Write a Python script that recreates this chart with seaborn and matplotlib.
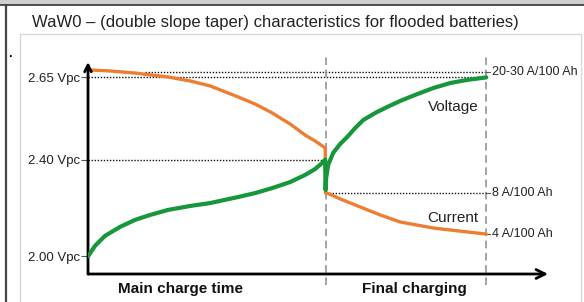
"""
WaW0 double slope taper charge characteristic (schematic)
"""

import numpy as np
import pandas as pd
import matplotlib
matplotlib.use("Agg")
import matplotlib.pyplot as plt
from matplotlib.lines import Line2D
from matplotlib.patches import Rectangle
import seaborn as sns

# ─── Data (time in arbitrary units, level = relative height on the axis) ─────
VOLT_TIME  = [0.0, 0.35, 0.85, 1.6, 2.36, 3.12, 4.02, 5.13, 6.13, 7.54, 8.39,
              9.25, 10.15, 10.9, 11.41, 11.76, 11.91, 11.93, 11.96, 12.06,
              12.31, 12.66, 13.02, 13.42, 13.82, 14.42, 15.03, 15.68, 16.43,
              17.34, 18.19, 19.05, 20.0]
VOLT_LEVEL = [8.5, 13.5, 18.3, 22.6, 26.0, 28.4, 30.8, 32.7, 34.1, 37.0, 38.9,
              41.3, 44.2, 47.6, 50.5, 53.4, 55.0, 40.4, 46.2, 52.4,
              58.2, 62.5, 65.9, 70.2, 74.0, 77.4, 80.3, 83.2, 86.1,
              89.4, 91.8, 93.3, 94.5]

CURR_TIME  = [0.0, 1.1, 2.36, 4.02, 5.13, 6.13, 7.54, 8.39, 9.25, 10.15, 10.9,
              11.41, 11.91, 11.93, 12.01, 12.66, 13.67, 14.67, 15.68, 17.34,
              19.05, 20.0]
CURR_LEVEL = [98.1, 97.6, 96.6, 94.7, 92.8, 90.4, 85.1, 81.7, 77.4, 72.1, 66.8,
              63.9, 60.6, 38.9, 38.9, 36.1, 32.2, 28.4, 25.0, 22.1,
              20.2, 19.2]

VOLT_TICKS  = [94.5, 55.0, 8.5]
VOLT_LABELS = ["2.65 Vpc", "2.40 Vpc", "2.00 Vpc"]
CURR_TICKS  = [97.3, 38.9, 19.2]
CURR_LABELS = ["20-30 A/100 Ah", "8 A/100 Ah", "4 A/100 Ah"]

T_SWITCH = 11.95
T_END    = 20.0

ORANGE = "#ED7D31"
GREEN  = "#16973C"

sns.set_theme(style="white")
plt.rcParams["font.family"] = ["Liberation Sans", "DejaVu Sans"]

fig = plt.figure(figsize=(5.84, 3.02), dpi=100)
ax = fig.add_axes([0.1507, 0.0927, 0.7877, 0.702])

# ── Page frame (scan border) ───────────────────────────────────
fig.add_artist(Rectangle((0, 0.985), 1, 0.015, transform=fig.transFigure,
                         color="#cfcfcf", lw=0))
fig.add_artist(Line2D([0, 1], [0.983, 0.983], transform=fig.transFigure,
                      color="#333333", lw=1.2))
fig.add_artist(Line2D([0.0103, 0.0103], [0, 0.985], transform=fig.transFigure,
                      color="#444444", lw=1.6))
fig.add_artist(Line2D([0.0342, 0.0342, 0.995, 0.995], [0, 0.887, 0.887, 0],
                      transform=fig.transFigure, color="#d6d6d6", lw=0.9))
fig.text(0.0548, 0.927,
         "WaW0 \u2013 (double slope taper) characteristics for flooded batteries)",
         ha="left", va="center", fontsize=12.0, color="#222222")
fig.text(0.014, 0.81, ".", fontsize=9, fontweight="bold", color="black")

# ── Reference lines ────────────────────────────────────────────
dot = dict(color="#111111", lw=1.0, ls=(0, (1, 1.2)), zorder=1)
ax.plot([0, T_END], [VOLT_TICKS[0]] * 2, **dot)
ax.plot([2.85, T_END], [CURR_TICKS[0]] * 2, **dot)
ax.plot([0, T_SWITCH], [VOLT_TICKS[1]] * 2, **dot)
ax.plot([T_SWITCH, T_END], [CURR_TICKS[1]] * 2, **dot)

for t in (T_SWITCH, T_END):
    ax.plot([t, t], [-5.3, 104.3], color="#8a8a8a", lw=1.1, ls=(0, (5, 3)),
            clip_on=False, zorder=1)

# ── Curves ─────────────────────────────────────────────────────
curr = pd.DataFrame({"t": CURR_TIME, "level": CURR_LEVEL})
volt = pd.DataFrame({"t": VOLT_TIME, "level": VOLT_LEVEL})
sns.lineplot(data=curr, x="t", y="level", sort=False, estimator=None,
             color=ORANGE, lw=2.4, ax=ax, zorder=3, solid_joinstyle="round")
sns.lineplot(data=volt, x="t", y="level", sort=False, estimator=None,
             color=GREEN, lw=3.0, ax=ax, zorder=4, solid_joinstyle="round")

ax.text(18.34, 80.3, "Voltage", ha="center", va="center", fontsize=11, color="#222222")
ax.text(18.34, 26.9, "Current", ha="center", va="center", fontsize=11, color="#222222")

# ── Right-hand current labels ──────────────────────────────────
for lvl, lab in zip(CURR_TICKS, CURR_LABELS):
    ax.plot([T_END, T_END + 0.2], [lvl, lvl], color="#555555", lw=0.8, clip_on=False)
    ax.text(T_END + 0.3, lvl, lab, ha="left", va="center", fontsize=9.0, color="#222222")

# ── Axes ───────────────────────────────────────────────────────
ax.set_xlim(0, 23.1)
ax.set_ylim(0, 101.9)
for s in ax.spines.values():
    s.set_visible(False)
ax.annotate("", xy=(1.0, 0), xytext=(0, 0), xycoords="axes fraction",
            arrowprops=dict(arrowstyle="->", lw=2.0, color="black",
                            mutation_scale=16, shrinkA=0, shrinkB=0))
ax.annotate("", xy=(0, 1.0), xytext=(0, 0), xycoords="axes fraction",
            arrowprops=dict(arrowstyle="->", lw=2.0, color="black",
                            mutation_scale=12, shrinkA=0, shrinkB=0))
ax.set_xticks([])
ax.set_yticks(VOLT_TICKS)
ax.set_yticklabels(VOLT_LABELS, fontsize=9.5, color="#222222")
ax.tick_params(axis="y", left=True, length=5, width=0.8, color="#555555", pad=1)
ax.set_xlabel("")
ax.set_ylabel("")

ax.text(4.62, -7.2, "Main charge time", ha="center", va="center",
        fontsize=11, fontweight="bold", color="#111111", clip_on=False)
ax.text(16.38, -7.2, "Final charging", ha="center", va="center",
        fontsize=11, fontweight="bold", color="#111111", clip_on=False)

fig.savefig("out.png", dpi=100)
